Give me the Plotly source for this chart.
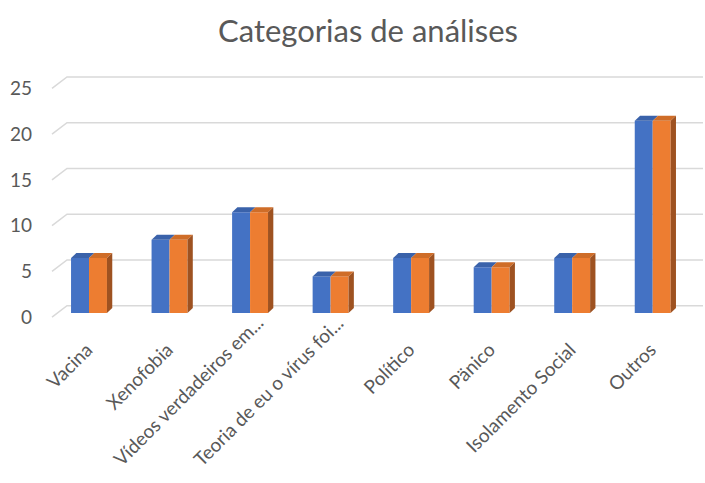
import plotly.graph_objects as go

# ---- data ----
categories = ["Vacina", "Xenofobia", "Vídeos verdadeiros em...", "Teoria de eu o vírus foi...",
              "Político", "Pänico", "Isolamento Social", "Outros"]
series_1 = [6, 8, 11, 4, 6, 5, 6, 21]
series_2 = [6, 8, 11, 4, 6, 5, 6, 21]
y_ticks = [0, 5, 10, 15, 20, 25]
title_text = "Categorias de análises"
truncated = [2, 3]   # labels Excel truncated with "..." (drawn slightly further along)

# ---- layout geometry ----
W, H = 705, 483
ML, MR, MT, MB = 50, 2, 74, 163
XMIN, XMAX = -0.4843, 7.6245
YMIN, YMAX = -0.765, 26.12
px_x = (W - ML - MR) / (XMAX - XMIN)   # px per x unit
px_y = (H - MT - MB) / (YMAX - YMIN)   # px per y unit

BW = 0.223                 # bar width (data units)
DX = 5.3 / px_x            # bar depth offset
DY = 5.0 / px_y
FRONT_X = XMIN + 2 / px_x  # gridline front-left
BACK_X = XMIN + 17 / px_x  # gridline back-left
FRONT_OFF = -0.45
BACK_OFF = 0.8

BLUE, BLUE_TOP = "#4472C4", "#3A62AA"
ORANGE, ORANGE_TOP, ORANGE_SIDE = "#ED7D31", "#CF6D28", "#9E5221"
GRID = "#D9D9D9"
TXT = "#595959"
FONT = "Lato, Open Sans, sans-serif"
XFS = 19

xs = list(range(len(categories)))

fig = go.Figure()
fig.add_trace(go.Bar(x=xs, y=series_1, width=BW, offset=-BW, marker=dict(color=BLUE, line=dict(width=0)),
                     hoverinfo="skip", showlegend=False))
fig.add_trace(go.Bar(x=xs, y=series_2, width=BW, offset=0, marker=dict(color=ORANGE, line=dict(width=0)),
                     hoverinfo="skip", showlegend=False))

shapes = []
# gridlines with 3D floor/wall slant
for v in y_ticks:
    yf, yb = v + FRONT_OFF, v + BACK_OFF
    shapes.append(dict(type="path", xref="x", yref="y", layer="below",
                       path=f"M {FRONT_X},{yf} L {BACK_X},{yb} L {XMAX},{yb}",
                       line=dict(color=GRID, width=1.5)))

# 3D faces for bars
for i, (a, b) in enumerate(zip(series_1, series_2)):
    x0 = i - BW
    shapes.append(dict(type="path", xref="x", yref="y", layer="above", line=dict(width=0),
                       fillcolor=BLUE_TOP,
                       path=f"M {x0},{a} L {i},{a} L {i+DX},{a+DY} L {x0+DX},{a+DY} Z"))
    shapes.append(dict(type="path", xref="x", yref="y", layer="above", line=dict(width=0),
                       fillcolor=ORANGE_TOP,
                       path=f"M {i},{b} L {i+BW},{b} L {i+BW+DX},{b+DY} L {i+DX},{b+DY} Z"))
    shapes.append(dict(type="path", xref="x", yref="y", layer="above", line=dict(width=0),
                       fillcolor=ORANGE_SIDE,
                       path=f"M {i+BW},0 L {i+BW},{b} L {i+BW+DX},{b+DY} L {i+BW+DX},{DY} Z"))

ticktext = ["" if i in truncated else c for i, c in enumerate(categories)]
annotations = [dict(x=i, y=YMIN, xref="x", yref="y", text=categories[i], textangle=-45,
                    showarrow=False, xanchor="right", yanchor="top", xshift=20, yshift=12,
                    font=dict(family=FONT, size=XFS, color=TXT))
               for i in truncated]

fig.update_layout(
    width=W, height=H,
    margin=dict(l=ML, r=MR, t=MT, b=MB, autoexpand=False),
    plot_bgcolor="white", paper_bgcolor="white",
    barmode="overlay",
    shapes=shapes,
    annotations=annotations,
    font=dict(family=FONT, color=TXT),
    title=dict(text=title_text, x=0.522, xref="container", xanchor="center",
               y=1 - 31 / H, yref="container", yanchor="middle",
               font=dict(family=FONT, size=31, color=TXT)),
    xaxis=dict(range=[XMIN, XMAX], tickmode="array", tickvals=xs, ticktext=ticktext,
               tickangle=-45, showgrid=False, zeroline=False, showline=False, ticks="",
               automargin=False,
               tickfont=dict(size=XFS, color=TXT), ticklabelstandoff=14, ticklabelshift=-2),
    yaxis=dict(range=[YMIN, YMAX], tickmode="array", tickvals=[v + FRONT_OFF for v in y_ticks],
               ticktext=[str(v) for v in y_ticks], showgrid=False, zeroline=False, showline=False,
               automargin=False,
               ticks="", tickfont=dict(size=19, color=TXT), ticklabelstandoff=17),
)

fig.write_html("out.html", config={"displayModeBar": False},
               post_script="document.body.style.margin='0';document.body.style.overflow='hidden';")
